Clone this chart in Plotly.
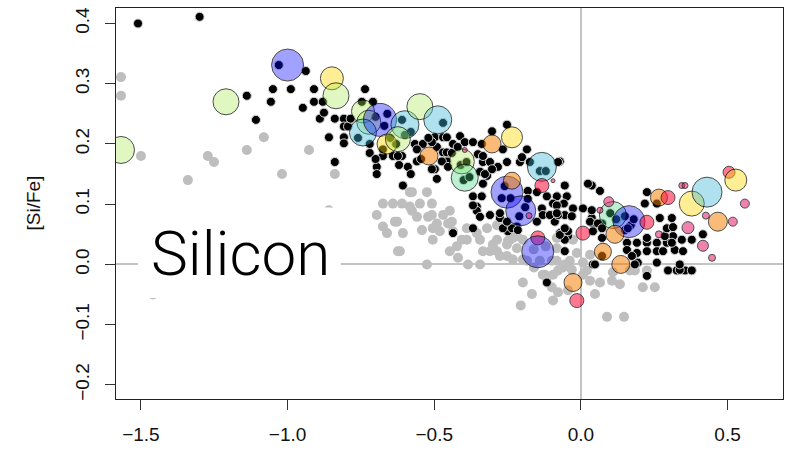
import plotly.graph_objects as go

# ---- comparison sample (grey) ----
ref_feh = [-1.568, -1.568, -1.50, -1.272, -1.251, -1.34, -1.139, -1.081, -1.019, -0.927,
           -0.839, -0.859, -0.696, -0.675, -0.641, -0.675, -0.661, -0.634, -0.624, -0.61,
           -0.576, -0.525, -0.549, -0.508, -0.576, -0.559, -0.521, -0.627, -0.607, -0.542,
           -0.491, -0.481, -0.505, -0.447, -0.44, -0.406, -0.355, -0.32, -0.286, -0.423,
           -0.447, -0.419, -0.385, -0.344, -0.617, -0.525, -0.334, -0.286, -0.252, -0.218,
           -0.198, -0.242, -0.198, -0.389, -0.198, -0.167, -0.205, -0.099, -0.095, -0.13,
           -0.061, -0.038, -0.078, -0.055, -0.078, -0.044, 0.031, 0.065, 0.048, 0.089,
           0.147, 0.106, 0.184, 0.211, 0.252, 0.225, 0.02, -0.31, -0.276, -0.249,
           -0.232, -0.082, -0.082, -0.014, 0.007, 0.031, -0.031, 0.007, 0.167, -0.583,
           -0.583, -0.508, -0.47, -0.453, -0.505, -0.436, -0.389, -0.344, -0.3, -0.252,
           -0.286, -0.232, -0.072, -0.027, -0.218, -0.082, -0.095, -0.123, -0.14, -0.099,
           -0.184, 0.109, 0.133, -1.459, -0.161, -0.12, -0.16]
ref_sife = [0.311, 0.28, 0.18, 0.18, 0.17, 0.14, 0.19, 0.211, 0.15, 0.19,
            0.15, 0.09, 0.082, 0.101, 0.101, 0.063, 0.052, 0.071, 0.022, 0.101,
            0.12, 0.12, 0.101, 0.101, 0.089, 0.079, 0.079, 0.071, 0.052, 0.057,
            0.068, 0.055, 0.041, 0.089, 0.071, 0.041, 0.052, 0.06, 0.041, 0.03,
            0.022, 0.011, 0.0, 0.0, 0.022, 0.0, 0.022, 0.022, 0.014, 0.027,
            0.008, 0.041, 0.041, 0.06, -0.03, -0.049, -0.068, -0.038, -0.06, -0.017,
            -0.005, 0.006, -0.01, 0.0, -0.046, -0.043, -0.027, -0.03, -0.049, -0.087,
            -0.087, -0.027, -0.01, -0.038, -0.038, -0.01, -0.01, 0.022, 0.014, 0.039,
            0.008, 0.027, 0.006, 0.019, 0.003, 0.016, -0.009, -0.017, -0.01, 0.12,
            0.096, 0.082, 0.082, 0.068, 0.06, 0.055, 0.041, 0.041, 0.033, 0.033,
            0.065, 0.044, 0.049, 0.041, 0.047, 0.044, -0.017, -0.017, 0.006, 0.006,
            0.006, -0.013, -0.033, -0.05, 0.025, 0.03, -0.005]

# ---- main sample (black) ----
thin_feh = [-1.51, -1.30, -0.938, -1.139, -1.05, -0.989, -1.057, -0.948, -0.91, -0.91,
            -0.88, -1.108, -0.89, -0.876, -0.839, -0.808, -0.808, -0.794, -0.859, -0.808,
            -0.808, -0.839, -0.696, -0.696, -0.736, -0.747, -0.709, -0.675, -0.641, -0.785,
            -0.607, -0.59, -0.559, -0.566, -0.539, -0.498, -0.47, -0.491, -0.47, -0.436,
            -0.457, -0.498, -0.491, -0.252, -0.303, -0.412, -0.457, -0.396, -0.368, -0.338,
            -0.266, -0.184, -0.457, -0.351, -0.334, -0.31, -0.283, -0.252, -0.208, -0.344,
            -0.32, -0.072, -0.055, 0.037, 0.065, -0.334, -0.368, -0.338, -0.355, -0.181,
            -0.15, -0.181, -0.116, -0.082, -0.048, -0.095, -0.133, -0.13, -0.095, -0.055,
            -0.027, 0.007, -0.031, -0.089, -0.368, -0.436, -0.218, -0.249, -0.072, -0.044,
            0.037, 0.041, 0.072, -0.31, -0.276, -0.058, 0.037, 0.031, 0.058, -0.044,
            0.041, 0.072, 0.072, -0.055, 0.157, 0.191, 0.157, 0.191, 0.225, 0.225,
            0.259, 0.225, 0.259, 0.293, 0.314, 0.286, 0.32, 0.348, 0.378, 0.416,
            0.293, 0.225, 0.218, 0.259, 0.269, 0.31, 0.314, 0.259, 0.297, 0.327,
            0.355, 0.194, 0.225, 0.041, 0.072, 0.15, 0.174, -0.355, -0.344, -0.266,
            -0.235, -0.215, -0.15, -0.106, -0.078, -0.072, -0.055, -0.055, -0.116, -0.082,
            0.184, 0.337, 0.378, 0.337, 0.344, 0.31, 0.28, 0.024, 0.048, -0.61,
            -0.334, -0.327, -0.303, -0.201, -0.174, -0.078, -0.368, -0.276, -0.252, -0.082,
            -0.675, -0.624, -0.559, -0.508, -0.474, -0.453, -0.508, -0.70, -0.67, -0.66,
            -0.61, -0.58, -0.60, -0.63, -0.65, -0.72, -0.76, -0.26, -0.24, -0.27,
            -0.21, -0.19, 0.15, 0.17, 0.18, 0.16, 0.10, 0.12, -0.14, -0.12,
            -0.41, -0.39, -0.40, -0.38, -0.47, -1.03, -0.72, -0.70, -0.62, -0.58,
            -0.545, -0.52, -0.44, -0.42]
thin_sife = [0.40, 0.411, 0.321, 0.28, 0.291, 0.291, 0.27, 0.26, 0.291, 0.27,
             0.27, 0.24, 0.242, 0.252, 0.242, 0.242, 0.229, 0.229, 0.211, 0.211,
             0.201, 0.17, 0.162, 0.15, 0.291, 0.27, 0.27, 0.18, 0.18, 0.242,
             0.131, 0.162, 0.171, 0.2, 0.2, 0.211, 0.211, 0.195, 0.186, 0.2,
             0.171, 0.158, 0.142, 0.232, 0.221, 0.213, 0.211, 0.203, 0.203, 0.2,
             0.191, 0.191, 0.186, 0.183, 0.17, 0.17, 0.162, 0.17, 0.17, 0.154,
             0.147, 0.171, 0.131, 0.131, 0.122, 0.134, 0.113, 0.113, 0.096, 0.122,
             0.12, 0.109, 0.113, 0.113, 0.113, 0.101, 0.093, 0.082, 0.082, 0.082,
             0.093, 0.093, 0.08, 0.071, 0.06, 0.052, 0.063, 0.055, 0.052, 0.047,
             0.077, 0.068, 0.068, 0.082, 0.077, 0.101, 0.09, 0.071, 0.068, 0.055,
             0.055, 0.06, 0.044, 0.041, 0.036, 0.036, 0.024, 0.019, 0.036, 0.044,
             0.036, 0.022, 0.022, 0.036, 0.047, 0.047, 0.024, 0.022, 0.041, 0.05,
             0.06, 0.12, 0.101, 0.101, 0.077, 0.077, 0.062, 0.003, -0.01, -0.01,
             -0.01, 0.003, -0.019, 0.0, 0.014, 0.057, 0.014, 0.089, 0.079, 0.06,
             0.06, 0.057, 0.071, 0.082, 0.082, 0.049, 0.06, 0.022, -0.03, 0.098,
             0.0, -0.009, -0.01, 0.0, 0.041, 0.036, 0.022, 0.134, 0.0, 0.18,
             0.18, 0.15, 0.158, 0.178, 0.17, 0.17, 0.098, 0.085, 0.071, 0.085,
             0.191, 0.18, 0.191, 0.203, 0.171, 0.162, 0.158, 0.245, 0.23, 0.25,
             0.24, 0.22, 0.215, 0.2, 0.21, 0.2, 0.21, 0.13, 0.11, 0.11,
             0.08, 0.095, 0.08, 0.065, 0.075, 0.06, 0.085, 0.075, 0.155, 0.155,
             0.165, 0.17, 0.14, 0.145, 0.235, 0.331, 0.185, 0.175, 0.165, 0.15,
             0.175, 0.21, 0.185, 0.195]

# ---- highlighted stars: [Fe/H], [Si/Fe], weight and colour bin ----
star_feh = [-1.00, -0.849, -0.835, -1.21, -1.568, -0.743, -0.723, -0.743, -0.685, -0.60,
            -0.661, -0.624, -0.549, -0.488, -0.518, -0.406, -0.396, -0.303, -0.235, -0.133,
            -0.252, -0.235, -0.205, -0.133, 0.007, -0.147, -0.147, -0.027, -0.014, 0.109,
            0.164, 0.095, 0.116, 0.075, 0.136, 0.225, 0.266, 0.266, 0.297, 0.344,
            0.355, 0.378, 0.43, 0.505, 0.528, 0.559, 0.426, 0.467, 0.518, 0.365,
            0.416, 0.447, -0.396, -0.095, -0.177, 0.065]
star_sife = [0.331, 0.309, 0.280, 0.27, 0.19, 0.254, 0.236, 0.219, 0.24, 0.232,
             0.20, 0.208, 0.262, 0.24, 0.18, 0.171, 0.144, 0.20, 0.211, 0.162,
             0.12, 0.139, 0.089, 0.131, 0.052, 0.044, 0.021, -0.03, -0.06, 0.082,
             0.071, 0.104, 0.05, 0.021, 0.0, 0.07, 0.05, 0.111, 0.111, 0.131,
             0.131, 0.101, 0.12, 0.153, 0.14, 0.101, 0.081, 0.071, 0.071, 0.061,
             0.031, 0.011, 0.19, 0.139, 0.081, 0.09]
star_w = [3.2, 2.3, 2.6, 2.6, 2.7, 2.3, 2.4, 2.7, 3.3, 2.8,
          2.0, 2.5, 2.6, 2.8, 1.8, 2.5, 2.7, 1.8, 2.1, 2.9,
          3.2, 1.7, 3.0, 1.4, 1.4, 1.4, 3.2, 1.8, 1.4, 2.7,
          3.2, 1.0, 1.8, 1.7, 1.8, 1.4, 0.7, 1.7, 1.4, 0.6,
          0.6, 2.5, 3.0, 1.2, 2.2, 0.9, 0.7, 1.9, 0.9, 1.2,
          1.1, 0.7, 0.5, 0.4, 0.6, 0.6]
star_bin = [0, 4, 2, 2, 2, 2, 2, 1, 0, 1,
            4, 2, 2, 1, 5, 2, 3, 5, 4, 1,
            0, 5, 0, 6, 6, 6, 0, 5, 6, 3,
            0, 7, 5, 5, 5, 6, 7, 5, 6, 7,
            7, 4, 1, 6, 4, 7, 7, 5, 7, 7,
            7, 7, 7, 7, 7, 7]

x_ticks = [-1.5, -1.0, -0.5, 0.0, 0.5]
y_ticks = [-0.2, -0.1, 0.0, 0.1, 0.2, 0.3, 0.4]

palette = [
    "rgba(0,0,255,0.52)",      # blue
    "rgba(60,185,215,0.58)",   # sky
    "rgba(170,235,80,0.5)",    # light green
    "rgba(70,215,130,0.5)",    # mint
    "rgba(255,215,0,0.6)",     # yellow
    "rgba(245,125,0,0.75)",    # orange
    "rgba(255,0,50,0.75)",     # red
    "rgba(225,20,100,0.75)",   # pink
]

fig = go.Figure()

fig.add_trace(go.Scatter(
    x=ref_feh, y=ref_sife, mode="markers",
    marker=dict(size=10, color="#bebebe", line=dict(width=0)),
    hoverinfo="skip", showlegend=False,
))

fig.add_trace(go.Scatter(
    x=thin_feh, y=thin_sife, mode="markers",
    marker=dict(size=9, color="black", line=dict(width=1, color="#d4d4d4")),
    hoverinfo="skip", showlegend=False,
))

fig.add_trace(go.Scatter(
    x=star_feh, y=star_sife, mode="markers",
    marker=dict(
        size=[10 * w for w in star_w],
        color=[palette[b] for b in star_bin],
        line=dict(width=1, color="black"),
    ),
    hoverinfo="skip", showlegend=False,
))

axis_font = dict(family="Liberation Sans, Arial, sans-serif", size=19, color="#111")

fig.update_layout(
    width=792, height=452,
    margin=dict(l=116, r=9, t=7, b=49),
    paper_bgcolor="white", plot_bgcolor="white",
    xaxis=dict(
        range=[-1.585, 0.689], tickvals=x_ticks, tickformat=".1f",
        ticks="outside", ticklen=10, tickcolor="#333", tickwidth=1,
        showline=True, linecolor="#222", linewidth=1, mirror=True,
        showgrid=False, zeroline=True, zerolinecolor="#c4c4c4", zerolinewidth=1.5,
        tickfont=axis_font, ticklabelstandoff=8,
    ),
    yaxis=dict(
        range=[-0.2234, 0.4257], tickvals=y_ticks, tickformat=".1f",
        tickangle=-90,
        ticks="outside", ticklen=10, tickcolor="#333", tickwidth=1,
        showline=True, linecolor="#222", linewidth=1, mirror=True,
        showgrid=False, zeroline=True, zerolinecolor="#c4c4c4", zerolinewidth=1.5,
        tickfont=axis_font, ticklabelstandoff=8,
    ),
    shapes=[dict(
        type="rect", xref="paper", yref="paper",
        x0=0.033, x1=0.337, y0=0.258, y1=0.49,
        fillcolor="white", line=dict(width=0), layer="above",
    )],
    annotations=[
        dict(text="Silicon", xref="paper", yref="paper", x=0.186, y=0.371,
             xanchor="center", yanchor="middle", showarrow=False,
             font=dict(family="Roboto, Liberation Sans, sans-serif", size=62,
                       color="black", weight=300)),
        dict(text="[Si/Fe]", xref="paper", yref="paper", x=-0.1244, y=0.5,
             xanchor="center", yanchor="middle", showarrow=False, textangle=-90,
             font=axis_font),
    ],
)

fig.write_html("out.html")
